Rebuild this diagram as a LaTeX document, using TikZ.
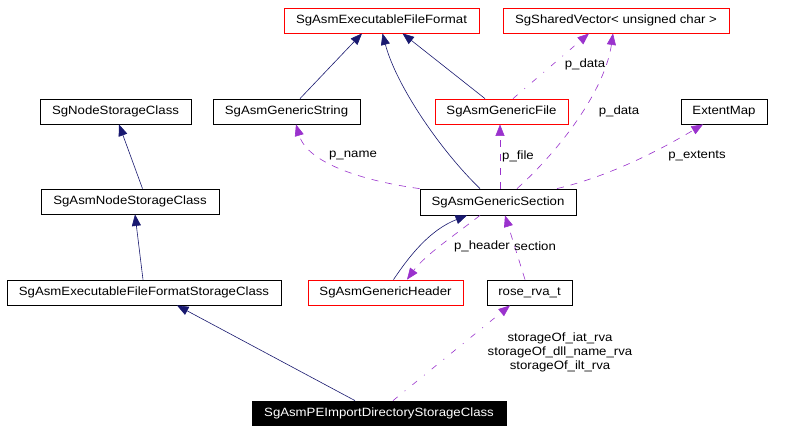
\documentclass[tikz,border=0pt]{standalone}
\usepackage{fontspec}
\setmainfont[FakeStretch=1.1]{Liberation Sans}
\usetikzlibrary{arrows.meta}
\definecolor{navyc}{RGB}{25,25,112}
\definecolor{purplec}{RGB}{154,50,205}
\begin{document}
\begin{tikzpicture}[x=1pt,y=-1pt,
  font=\fontsize{12}{14}\selectfont,
  cls/.style={draw=black,fill=white,inner sep=0pt,minimum height=25pt,line width=0.8pt},
  redcls/.style={cls,draw=red},
  inh/.style={draw=navyc,line width=0.6pt,-{Triangle[length=11.5pt,width=9pt]}},
  use/.style={draw=purplec,line width=0.6pt,dash pattern=on 7pt off 7pt,-{Triangle[length=11.5pt,width=9pt]}},
  usedd/.style={draw=purplec,line width=0.6pt,dash pattern=on 6pt off 9pt on 1pt off 9pt,-{Triangle[length=11.5pt,width=9pt]}},
  lbl/.style={inner sep=0pt,align=center}
]
\useasboundingbox (0,0) rectangle (789,432);
\fill[white] (0,0) rectangle (789,432);

\node[redcls,minimum width=195pt] (eff) at (381.5,20.5) {SgAsmExecutableFileFormat};
\node[redcls,minimum width=226pt] (sv) at (616,20.5) {SgSharedVector< unsigned char >};
\node[cls,minimum width=151pt] (nsc) at (115.5,111.5) {SgNodeStorageClass};
\node[cls,minimum width=147pt] (gstr) at (286.5,111.5) {SgAsmGenericString};
\node[redcls,minimum width=133pt] (gfile) at (501.5,111.5) {SgAsmGenericFile};
\node[cls,minimum width=86pt] (emap) at (724,111.5) {ExtentMap};
\node[cls,minimum width=178pt] (ansc) at (130,201.5) {SgAsmNodeStorageClass};
\node[cls,minimum width=156pt,minimum height=26pt] (gsec) at (498,202) {SgAsmGenericSection};
\node[cls,minimum width=274pt] (effsc) at (144,292.5) {SgAsmExecutableFileFormatStorageClass};
\node[redcls,minimum width=155pt] (ghdr) at (385.5,292.5) {SgAsmGenericHeader};
\node[cls,minimum width=85pt] (rva) at (529.5,292.5) {rose\_rva\_t};
\node[cls,fill=black,text=white,minimum width=254pt,minimum height=24pt] (pe) at (379,413) {SgAsmPEImportDirectoryStorageClass};

% inheritance
\draw[inh] ([xshift=13.5pt]gstr.north) -- ([xshift=-19.5pt]eff.south);
\draw[inh] ([xshift=-18pt]gsec.north) .. controls (440,150) and (396,85) .. ([xshift=1pt]eff.south);
\draw[inh] ([xshift=-16.5pt]gfile.north) -- ([xshift=21pt]eff.south);
\draw[inh] ([xshift=12.5pt]ansc.north) -- ([xshift=3.5pt]nsc.south);
\draw[inh] ([xshift=-1pt]effsc.north) -- ([xshift=5pt]ansc.south);
\draw[inh] ([xshift=8pt]ghdr.north) .. controls (410,255) and (430,230) .. ([xshift=-31pt]gsec.south);
\draw[inh] ([xshift=-24pt]pe.north) -- ([xshift=33pt]effsc.south);

% usage
\draw[usedd] ([xshift=11.5pt]gfile.north) -- ([xshift=-27pt]sv.south);
\draw[use] ([xshift=19pt]gsec.north) .. controls (560,150) and (605,90) .. ([xshift=-3pt]sv.south);
\draw[use] (gsec.north west) .. controls (370,182) and (308,165) .. ([xshift=9.5pt]gstr.south);
\draw[use] ([xshift=2pt]gsec.north) -- ([xshift=-1.5pt]gfile.south);
\draw[use] ([xshift=59pt]gsec.north) .. controls (610,176) and (660,150) .. ([xshift=-21pt]emap.south);
\draw[use] ([xshift=-18pt]gsec.south) .. controls (455,235) and (425,255) .. ([xshift=21.5pt]ghdr.north);
\draw[use] ([xshift=-4.5pt]rva.north) -- ([xshift=7pt]gsec.south);
\draw[usedd] ([xshift=14pt]pe.north) -- ([xshift=-19.5pt]rva.south);

% labels
\node[lbl] (l1) at (585,64) {p\_data};
\node[lbl] (l2) at (619,111) {p\_data};
\node[lbl] (l3) at (353,156) {p\_name};
\node[lbl] (l4) at (518,156) {p\_file};
\node[lbl] (l5) at (697,156) {p\_extents};
\node[lbl] (l6) at (482,246) {p\_header};
\node[lbl] (l7) at (535,246) {section};
\node[lbl] (l8) at (560,352) {storageOf\_iat\_rva\\storageOf\_dll\_name\_rva\\storageOf\_ilt\_rva};
\end{tikzpicture}
\end{document}
